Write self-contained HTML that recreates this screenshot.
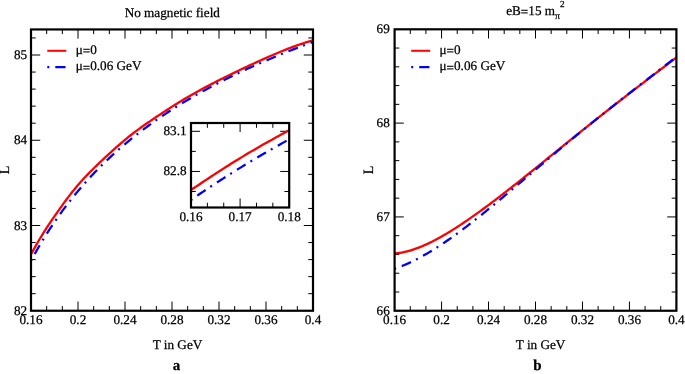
<!DOCTYPE html>
<html><head><meta charset="utf-8"><title>plot</title>
<style>
html,body{margin:0;padding:0;background:#fff;}
svg{display:block;font-family:"Liberation Serif",serif;fill:#000;text-rendering:geometricPrecision;}
</style></head><body>
<svg width="685" height="374" viewBox="0 0 685 374">
<rect width="685" height="374" fill="#fff"/>
<filter id="nf" x="0" y="0" width="685" height="374" filterUnits="userSpaceOnUse"><feOffset dx="0" dy="0"/></filter>
<path d="M46.67 310.75v-4.7M46.67 29.45v4.7M62.33 310.75v-4.7M62.33 29.45v4.7M78 310.75v-9.2M78 29.45v9.2M93.67 310.75v-4.7M93.67 29.45v4.7M109.33 310.75v-4.7M109.33 29.45v4.7M125 310.75v-9.2M125 29.45v9.2M140.67 310.75v-4.7M140.67 29.45v4.7M156.33 310.75v-4.7M156.33 29.45v4.7M172 310.75v-9.2M172 29.45v9.2M187.67 310.75v-4.7M187.67 29.45v4.7M203.33 310.75v-4.7M203.33 29.45v4.7M219 310.75v-9.2M219 29.45v9.2M234.67 310.75v-4.7M234.67 29.45v4.7M250.33 310.75v-4.7M250.33 29.45v4.7M266 310.75v-9.2M266 29.45v9.2M281.67 310.75v-4.7M281.67 29.45v4.7M297.33 310.75v-4.7M297.33 29.45v4.7M31 293.7h4.7M313 293.7h-4.7M31 276.65h4.7M313 276.65h-4.7M31 259.6h4.7M313 259.6h-4.7M31 242.55h4.7M313 242.55h-4.7M31 225.5h9.2M313 225.5h-9.2M31 208.45h4.7M313 208.45h-4.7M31 191.4h4.7M313 191.4h-4.7M31 174.35h4.7M313 174.35h-4.7M31 157.3h4.7M313 157.3h-4.7M31 140.25h9.2M313 140.25h-9.2M31 123.2h4.7M313 123.2h-4.7M31 106.15h4.7M313 106.15h-4.7M31 89.1h4.7M313 89.1h-4.7M31 72.05h4.7M313 72.05h-4.7M31 55h9.2M313 55h-9.2M31 37.95h4.7M313 37.95h-4.7" stroke="#000" stroke-width="1" fill="none"/>
<clipPath id="ca"><rect x="31" y="29.45" width="282" height="281.3"/></clipPath>
<g clip-path="url(#ca)"><path d="M31 254.29 L32.77 251.14 L34.55 247.99 L36.32 244.87 L38.09 241.8 L39.87 238.78 L41.64 235.83 L43.42 232.95 L45.19 230.14 L46.96 227.39 L48.74 224.7 L50.51 222.06 L52.28 219.45 L54.06 216.88 L55.83 214.34 L57.6 211.81 L59.38 209.31 L61.15 206.82 L62.92 204.36 L64.7 201.92 L66.47 199.52 L68.25 197.16 L70.02 194.85 L71.79 192.58 L73.57 190.36 L75.34 188.19 L77.11 186.07 L78.89 184 L80.66 181.98 L82.43 180 L84.21 178.07 L85.98 176.19 L87.75 174.34 L89.53 172.53 L91.3 170.75 L93.08 169 L94.85 167.28 L96.62 165.57 L98.4 163.88 L100.17 162.2 L101.94 160.53 L103.72 158.87 L105.49 157.21 L107.26 155.57 L109.04 153.93 L110.81 152.3 L112.58 150.68 L114.36 149.07 L116.13 147.48 L117.91 145.9 L119.68 144.35 L121.45 142.81 L123.23 141.3 L125 139.82 L126.77 138.36 L128.55 136.92 L130.32 135.51 L132.09 134.13 L133.87 132.77 L135.64 131.43 L137.42 130.11 L139.19 128.82 L140.96 127.54 L142.74 126.28 L144.51 125.03 L146.28 123.79 L148.06 122.57 L149.83 121.35 L151.6 120.14 L153.38 118.94 L155.15 117.74 L156.92 116.55 L158.7 115.36 L160.47 114.18 L162.25 113.01 L164.02 111.84 L165.79 110.69 L167.57 109.54 L169.34 108.4 L171.11 107.26 L172.89 106.14 L174.66 105.03 L176.43 103.92 L178.21 102.83 L179.98 101.74 L181.75 100.67 L183.53 99.6 L185.3 98.55 L187.08 97.51 L188.85 96.47 L190.62 95.45 L192.4 94.43 L194.17 93.43 L195.94 92.43 L197.72 91.44 L199.49 90.47 L201.26 89.5 L203.04 88.54 L204.81 87.58 L206.58 86.64 L208.36 85.71 L210.13 84.78 L211.91 83.86 L213.68 82.94 L215.45 82.03 L217.23 81.13 L219 80.24 L220.77 79.34 L222.55 78.46 L224.32 77.58 L226.09 76.7 L227.87 75.83 L229.64 74.96 L231.42 74.1 L233.19 73.24 L234.96 72.38 L236.74 71.52 L238.51 70.67 L240.28 69.83 L242.06 68.98 L243.83 68.14 L245.6 67.3 L247.38 66.47 L249.15 65.64 L250.92 64.81 L252.7 63.99 L254.47 63.17 L256.25 62.35 L258.02 61.54 L259.79 60.73 L261.57 59.93 L263.34 59.13 L265.11 58.34 L266.89 57.55 L268.66 56.77 L270.43 55.99 L272.21 55.22 L273.98 54.46 L275.75 53.71 L277.53 52.96 L279.3 52.22 L281.08 51.49 L282.85 50.77 L284.62 50.06 L286.4 49.36 L288.17 48.67 L289.94 47.99 L291.72 47.32 L293.49 46.67 L295.26 46.02 L297.04 45.39 L298.81 44.78 L300.58 44.18 L302.36 43.59 L304.13 43.02 L305.91 42.47 L307.68 41.93 L309.45 41.41 L311.23 40.91 L313 40.43" stroke="#f00" stroke-width="2.3" fill="none"/>
<path d="M31 260.65 L32.77 257.41 L34.55 254.22 L36.32 251.09 L38.09 248.02 L39.87 245 L41.64 242.04 L43.42 239.13 L45.19 236.27 L46.96 233.46 L48.74 230.7 L50.51 227.98 L52.28 225.31 L54.06 222.69 L55.83 220.11 L57.6 217.57 L59.38 215.07 L61.15 212.61 L62.92 210.2 L64.7 207.81 L66.47 205.47 L68.25 203.16 L70.02 200.89 L71.79 198.65 L73.57 196.45 L75.34 194.28 L77.11 192.14 L78.89 190.03 L80.66 187.95 L82.43 185.9 L84.21 183.88 L85.98 181.89 L87.75 179.93 L89.53 177.99 L91.3 176.08 L93.08 174.19 L94.85 172.33 L96.62 170.5 L98.4 168.69 L100.17 166.9 L101.94 165.14 L103.72 163.4 L105.49 161.68 L107.26 159.98 L109.04 158.31 L110.81 156.65 L112.58 155.01 L114.36 153.4 L116.13 151.8 L117.91 150.23 L119.68 148.67 L121.45 147.13 L123.23 145.61 L125 144.1 L126.77 142.61 L128.55 141.14 L130.32 139.69 L132.09 138.25 L133.87 136.83 L135.64 135.42 L137.42 134.03 L139.19 132.66 L140.96 131.3 L142.74 129.95 L144.51 128.62 L146.28 127.3 L148.06 125.99 L149.83 124.7 L151.6 123.42 L153.38 122.15 L155.15 120.9 L156.92 119.66 L158.7 118.43 L160.47 117.21 L162.25 116.01 L164.02 114.82 L165.79 113.63 L167.57 112.46 L169.34 111.3 L171.11 110.15 L172.89 109.02 L174.66 107.89 L176.43 106.77 L178.21 105.66 L179.98 104.57 L181.75 103.48 L183.53 102.4 L185.3 101.33 L187.08 100.27 L188.85 99.22 L190.62 98.18 L192.4 97.14 L194.17 96.12 L195.94 95.1 L197.72 94.1 L199.49 93.1 L201.26 92.11 L203.04 91.13 L204.81 90.15 L206.58 89.18 L208.36 88.22 L210.13 87.27 L211.91 86.33 L213.68 85.39 L215.45 84.46 L217.23 83.54 L219 82.62 L220.77 81.71 L222.55 80.81 L224.32 79.91 L226.09 79.03 L227.87 78.14 L229.64 77.27 L231.42 76.4 L233.19 75.53 L234.96 74.68 L236.74 73.83 L238.51 72.98 L240.28 72.14 L242.06 71.31 L243.83 70.48 L245.6 69.66 L247.38 68.84 L249.15 68.03 L250.92 67.22 L252.7 66.42 L254.47 65.63 L256.25 64.84 L258.02 64.05 L259.79 63.27 L261.57 62.5 L263.34 61.73 L265.11 60.96 L266.89 60.2 L268.66 59.45 L270.43 58.7 L272.21 57.95 L273.98 57.21 L275.75 56.47 L277.53 55.74 L279.3 55.01 L281.08 54.29 L282.85 53.57 L284.62 52.85 L286.4 52.14 L288.17 51.43 L289.94 50.73 L291.72 50.03 L293.49 49.34 L295.26 48.65 L297.04 47.96 L298.81 47.28 L300.58 46.6 L302.36 45.92 L304.13 45.25 L305.91 44.58 L307.68 43.92 L309.45 43.25 L311.23 42.6 L313 41.94" stroke="#00f" stroke-width="2.25" fill="none" stroke-dasharray="2 6 10.1 5.6" stroke-dashoffset="0.4"/></g>
<rect x="31" y="29.45" width="282" height="281.3" fill="none" stroke="#000" stroke-width="2.2"/>
<path d="M47.3 50.8H66.3" stroke="#f00" stroke-width="2"/>
<path d="M47.3 67.1H66.5" stroke="#00f" stroke-width="2.2" stroke-dasharray="2 6 10.2 5.6"/>
<rect x="191" y="123" width="98.2" height="84.5" fill="#fff"/>
<path d="M207.37 207.5v-4.8M207.37 123v4.8M223.73 207.5v-4.8M223.73 123v4.8M240.1 207.5v-9M240.1 123v9M256.47 207.5v-4.8M256.47 123v4.8M272.83 207.5v-4.8M272.83 123v4.8M191 131.3h9M289.2 131.3h-9M191 151.38h4.8M289.2 151.38h-4.8M191 171.45h9M289.2 171.45h-9M191 191.52h4.8M289.2 191.52h-4.8" stroke="#000" stroke-width="1" fill="none"/>
<clipPath id="ci"><rect x="191" y="123" width="98.2" height="84.5"/></clipPath>
<g clip-path="url(#ci)"><path d="M191 189.96 L193.52 188.28 L196.04 186.6 L198.55 184.92 L201.07 183.23 L203.59 181.55 L206.11 179.88 L208.63 178.21 L211.14 176.55 L213.66 174.89 L216.18 173.25 L218.7 171.61 L221.22 169.98 L223.73 168.36 L226.25 166.76 L228.77 165.16 L231.29 163.58 L233.81 162.01 L236.32 160.45 L238.84 158.91 L241.36 157.38 L243.88 155.86 L246.39 154.35 L248.91 152.86 L251.43 151.37 L253.95 149.9 L256.47 148.44 L258.98 146.99 L261.5 145.55 L264.02 144.12 L266.54 142.7 L269.06 141.29 L271.57 139.88 L274.09 138.49 L276.61 137.1 L279.13 135.71 L281.65 134.33 L284.16 132.96 L286.68 131.59 L289.2 130.23" stroke="#f00" stroke-width="2.3" fill="none"/>
<path d="M191 199.95 L193.52 198.21 L196.04 196.47 L198.55 194.75 L201.07 193.04 L203.59 191.34 L206.11 189.65 L208.63 187.98 L211.14 186.31 L213.66 184.65 L216.18 183.01 L218.7 181.37 L221.22 179.74 L223.73 178.13 L226.25 176.52 L228.77 174.92 L231.29 173.34 L233.81 171.76 L236.32 170.19 L238.84 168.63 L241.36 167.09 L243.88 165.55 L246.39 164.02 L248.91 162.5 L251.43 160.98 L253.95 159.48 L256.47 157.99 L258.98 156.5 L261.5 155.02 L264.02 153.56 L266.54 152.1 L269.06 150.64 L271.57 149.2 L274.09 147.77 L276.61 146.34 L279.13 144.92 L281.65 143.51 L284.16 142.11 L286.68 140.72 L289.2 139.33" stroke="#00f" stroke-width="2.25" fill="none" stroke-dasharray="2 6 10.1 5.6" stroke-dashoffset="0.4"/></g>
<rect x="191" y="123" width="98.2" height="84.5" fill="none" stroke="#000" stroke-width="2.2"/>
<path d="M410.26 310.75v-4.7M410.26 29.3v4.7M425.91 310.75v-4.7M425.91 29.3v4.7M441.57 310.75v-9.2M441.57 29.3v9.2M457.22 310.75v-4.7M457.22 29.3v4.7M472.88 310.75v-4.7M472.88 29.3v4.7M488.53 310.75v-9.2M488.53 29.3v9.2M504.19 310.75v-4.7M504.19 29.3v4.7M519.84 310.75v-4.7M519.84 29.3v4.7M535.5 310.75v-9.2M535.5 29.3v9.2M551.16 310.75v-4.7M551.16 29.3v4.7M566.81 310.75v-4.7M566.81 29.3v4.7M582.47 310.75v-9.2M582.47 29.3v9.2M598.12 310.75v-4.7M598.12 29.3v4.7M613.78 310.75v-4.7M613.78 29.3v4.7M629.43 310.75v-9.2M629.43 29.3v9.2M645.09 310.75v-4.7M645.09 29.3v4.7M660.74 310.75v-4.7M660.74 29.3v4.7M394.6 291.99h4.7M676.4 291.99h-4.7M394.6 273.22h4.7M676.4 273.22h-4.7M394.6 254.46h4.7M676.4 254.46h-4.7M394.6 235.7h4.7M676.4 235.7h-4.7M394.6 216.93h9.2M676.4 216.93h-9.2M394.6 198.17h4.7M676.4 198.17h-4.7M394.6 179.41h4.7M676.4 179.41h-4.7M394.6 160.64h4.7M676.4 160.64h-4.7M394.6 141.88h4.7M676.4 141.88h-4.7M394.6 123.12h9.2M676.4 123.12h-9.2M394.6 104.35h4.7M676.4 104.35h-4.7M394.6 85.59h4.7M676.4 85.59h-4.7M394.6 66.83h4.7M676.4 66.83h-4.7M394.6 48.06h4.7M676.4 48.06h-4.7" stroke="#000" stroke-width="1" fill="none"/>
<clipPath id="cb"><rect x="394.6" y="29.3" width="281.8" height="281.45"/></clipPath>
<g clip-path="url(#cb)"><path d="M394.6 253.44 L396.02 253.32 L397.43 253.17 L398.85 252.99 L400.26 252.78 L401.68 252.54 L403.1 252.27 L404.51 251.97 L405.93 251.64 L407.34 251.29 L408.76 250.92 L410.18 250.52 L411.59 250.09 L413.01 249.64 L414.43 249.17 L415.84 248.68 L417.26 248.16 L418.67 247.63 L420.09 247.07 L421.51 246.49 L422.92 245.9 L424.34 245.29 L425.75 244.65 L427.17 244 L428.59 243.34 L430 242.66 L431.42 241.96 L432.83 241.24 L434.25 240.52 L435.67 239.77 L437.08 239.02 L438.5 238.25 L439.91 237.46 L441.33 236.67 L442.75 235.86 L444.16 235.04 L445.58 234.21 L446.99 233.36 L448.41 232.51 L449.83 231.65 L451.24 230.77 L452.66 229.89 L454.08 229 L455.49 228.1 L456.91 227.19 L458.32 226.27 L459.74 225.34 L461.16 224.4 L462.57 223.46 L463.99 222.51 L465.4 221.55 L466.82 220.59 L468.24 219.62 L469.65 218.64 L471.07 217.65 L472.48 216.66 L473.9 215.66 L475.32 214.66 L476.73 213.65 L478.15 212.63 L479.56 211.61 L480.98 210.58 L482.4 209.55 L483.81 208.51 L485.23 207.47 L486.65 206.42 L488.06 205.37 L489.48 204.31 L490.89 203.25 L492.31 202.19 L493.73 201.12 L495.14 200.04 L496.56 198.96 L497.97 197.88 L499.39 196.8 L500.81 195.71 L502.22 194.62 L503.64 193.52 L505.05 192.42 L506.47 191.32 L507.89 190.21 L509.3 189.11 L510.72 188 L512.13 186.88 L513.55 185.77 L514.97 184.65 L516.38 183.53 L517.8 182.41 L519.22 181.28 L520.63 180.15 L522.05 179.03 L523.46 177.9 L524.88 176.76 L526.3 175.63 L527.71 174.5 L529.13 173.36 L530.54 172.22 L531.96 171.08 L533.38 169.94 L534.79 168.8 L536.21 167.66 L537.62 166.52 L539.04 165.38 L540.46 164.23 L541.87 163.09 L543.29 161.94 L544.7 160.8 L546.12 159.65 L547.54 158.51 L548.95 157.36 L550.37 156.21 L551.78 155.07 L553.2 153.92 L554.62 152.77 L556.03 151.63 L557.45 150.48 L558.87 149.34 L560.28 148.19 L561.7 147.05 L563.11 145.9 L564.53 144.76 L565.95 143.61 L567.36 142.47 L568.78 141.33 L570.19 140.19 L571.61 139.04 L573.03 137.9 L574.44 136.76 L575.86 135.63 L577.27 134.49 L578.69 133.35 L580.11 132.21 L581.52 131.08 L582.94 129.95 L584.35 128.81 L585.77 127.68 L587.19 126.55 L588.6 125.42 L590.02 124.29 L591.44 123.16 L592.85 122.04 L594.27 120.91 L595.68 119.79 L597.1 118.67 L598.52 117.54 L599.93 116.42 L601.35 115.31 L602.76 114.19 L604.18 113.07 L605.6 111.96 L607.01 110.84 L608.43 109.73 L609.84 108.62 L611.26 107.51 L612.68 106.4 L614.09 105.29 L615.51 104.19 L616.92 103.08 L618.34 101.98 L619.76 100.88 L621.17 99.78 L622.59 98.68 L624.01 97.58 L625.42 96.48 L626.84 95.39 L628.25 94.29 L629.67 93.2 L631.09 92.11 L632.5 91.02 L633.92 89.92 L635.33 88.84 L636.75 87.75 L638.17 86.66 L639.58 85.57 L641 84.49 L642.41 83.4 L643.83 82.32 L645.25 81.24 L646.66 80.16 L648.08 79.07 L649.49 77.99 L650.91 76.91 L652.33 75.83 L653.74 74.75 L655.16 73.68 L656.57 72.6 L657.99 71.52 L659.41 70.44 L660.82 69.37 L662.24 68.29 L663.66 67.21 L665.07 66.13 L666.49 65.06 L667.9 63.98 L669.32 62.9 L670.74 61.83 L672.15 60.75 L673.57 59.67 L674.98 58.59 L676.4 57.51" stroke="#f00" stroke-width="2.3" fill="none"/>
<path d="M394.6 268.75 L396.02 268.26 L397.43 267.76 L398.85 267.24 L400.26 266.7 L401.68 266.14 L403.1 265.57 L404.51 264.98 L405.93 264.37 L407.34 263.75 L408.76 263.11 L410.18 262.45 L411.59 261.78 L413.01 261.1 L414.43 260.4 L415.84 259.68 L417.26 258.95 L418.67 258.21 L420.09 257.45 L421.51 256.68 L422.92 255.9 L424.34 255.1 L425.75 254.29 L427.17 253.47 L428.59 252.63 L430 251.79 L431.42 250.93 L432.83 250.06 L434.25 249.18 L435.67 248.29 L437.08 247.38 L438.5 246.47 L439.91 245.55 L441.33 244.61 L442.75 243.67 L444.16 242.71 L445.58 241.75 L446.99 240.78 L448.41 239.8 L449.83 238.81 L451.24 237.81 L452.66 236.8 L454.08 235.79 L455.49 234.76 L456.91 233.73 L458.32 232.69 L459.74 231.65 L461.16 230.6 L462.57 229.54 L463.99 228.47 L465.4 227.4 L466.82 226.32 L468.24 225.23 L469.65 224.14 L471.07 223.04 L472.48 221.94 L473.9 220.83 L475.32 219.72 L476.73 218.6 L478.15 217.48 L479.56 216.35 L480.98 215.22 L482.4 214.08 L483.81 212.94 L485.23 211.8 L486.65 210.65 L488.06 209.49 L489.48 208.34 L490.89 207.18 L492.31 206.02 L493.73 204.85 L495.14 203.68 L496.56 202.51 L497.97 201.34 L499.39 200.16 L500.81 198.98 L502.22 197.8 L503.64 196.61 L505.05 195.43 L506.47 194.24 L507.89 193.05 L509.3 191.86 L510.72 190.67 L512.13 189.48 L513.55 188.28 L514.97 187.09 L516.38 185.89 L517.8 184.69 L519.22 183.49 L520.63 182.29 L522.05 181.09 L523.46 179.89 L524.88 178.69 L526.3 177.49 L527.71 176.29 L529.13 175.09 L530.54 173.89 L531.96 172.69 L533.38 171.49 L534.79 170.29 L536.21 169.09 L537.62 167.89 L539.04 166.69 L540.46 165.49 L541.87 164.29 L543.29 163.09 L544.7 161.9 L546.12 160.7 L547.54 159.51 L548.95 158.31 L550.37 157.12 L551.78 155.93 L553.2 154.74 L554.62 153.55 L556.03 152.36 L557.45 151.18 L558.87 149.99 L560.28 148.81 L561.7 147.63 L563.11 146.45 L564.53 145.27 L565.95 144.09 L567.36 142.92 L568.78 141.74 L570.19 140.57 L571.61 139.4 L573.03 138.23 L574.44 137.07 L575.86 135.9 L577.27 134.74 L578.69 133.58 L580.11 132.42 L581.52 131.26 L582.94 130.11 L584.35 128.95 L585.77 127.8 L587.19 126.65 L588.6 125.5 L590.02 124.36 L591.44 123.22 L592.85 122.07 L594.27 120.93 L595.68 119.8 L597.1 118.66 L598.52 117.53 L599.93 116.39 L601.35 115.26 L602.76 114.13 L604.18 113.01 L605.6 111.88 L607.01 110.76 L608.43 109.64 L609.84 108.52 L611.26 107.4 L612.68 106.28 L614.09 105.17 L615.51 104.05 L616.92 102.94 L618.34 101.83 L619.76 100.72 L621.17 99.61 L622.59 98.51 L624.01 97.4 L625.42 96.3 L626.84 95.2 L628.25 94.09 L629.67 92.99 L631.09 91.89 L632.5 90.79 L633.92 89.7 L635.33 88.6 L636.75 87.5 L638.17 86.41 L639.58 85.31 L641 84.22 L642.41 83.12 L643.83 82.03 L645.25 80.94 L646.66 79.84 L648.08 78.75 L649.49 77.65 L650.91 76.56 L652.33 75.47 L653.74 74.37 L655.16 73.28 L656.57 72.18 L657.99 71.09 L659.41 69.99 L660.82 68.89 L662.24 67.79 L663.66 66.69 L665.07 65.59 L666.49 64.49 L667.9 63.38 L669.32 62.28 L670.74 61.17 L672.15 60.06 L673.57 58.95 L674.98 57.84 L676.4 56.72" stroke="#00f" stroke-width="2.25" fill="none" stroke-dasharray="2 6 10.1 5.6" stroke-dashoffset="0.4"/></g>
<rect x="394.6" y="29.3" width="281.8" height="281.45" fill="none" stroke="#000" stroke-width="2.2"/>
<path d="M411.2 50.8H430.2" stroke="#f00" stroke-width="2"/>
<path d="M411.2 67.1H430.2" stroke="#00f" stroke-width="2.2" stroke-dasharray="2 6 10.2 5.6"/>
<g filter="url(#nf)" stroke="#000" stroke-width="0.25">
<text x="31" y="324.15" text-anchor="middle" font-size="13.2" >0.16</text>
<text x="78" y="324.15" text-anchor="middle" font-size="13.2" >0.2</text>
<text x="125" y="324.15" text-anchor="middle" font-size="13.2" >0.24</text>
<text x="172" y="324.15" text-anchor="middle" font-size="13.2" >0.28</text>
<text x="219" y="324.15" text-anchor="middle" font-size="13.2" >0.32</text>
<text x="266" y="324.15" text-anchor="middle" font-size="13.2" >0.36</text>
<text x="313" y="324.15" text-anchor="middle" font-size="13.2" >0.4</text>
<text x="27.1" y="314.75" text-anchor="end" font-size="13.2" >82</text>
<text x="27.1" y="229.5" text-anchor="end" font-size="13.2" >83</text>
<text x="27.1" y="144.25" text-anchor="end" font-size="13.2" >84</text>
<text x="27.1" y="59" text-anchor="end" font-size="13.2" >85</text>
<text x="172.3" y="16.9" text-anchor="middle" font-size="13.2" >No magnetic field</text>
<text x="177.5" y="348.5" text-anchor="middle" font-size="13.2" >T in GeV</text>
<text x="176.4" y="369.9" text-anchor="middle" font-size="15" font-weight="bold">a</text>
<text transform="translate(9.0 169.9) rotate(-90)" text-anchor="middle" font-size="14.3">L</text>
<text x="75.7" y="53.6" text-anchor="start" font-size="13.2" >μ<tspan dy="1.1">=</tspan><tspan dy="-1.1">0</tspan></text>
<text x="75.7" y="70.4" text-anchor="start" font-size="13.2" >μ<tspan dy="1.1">=</tspan><tspan dy="-1.1">0.06 GeV</tspan></text>
<text x="191" y="221.4" text-anchor="middle" font-size="13.2" >0.16</text>
<text x="240.1" y="221.4" text-anchor="middle" font-size="13.2" >0.17</text>
<text x="289.2" y="221.4" text-anchor="middle" font-size="13.2" >0.18</text>
<text x="186.6" y="135.3" text-anchor="end" font-size="13.2" >83.1</text>
<text x="186.6" y="175.45" text-anchor="end" font-size="13.2" >82.8</text>
<text x="394.6" y="324.15" text-anchor="middle" font-size="13.2" >0.16</text>
<text x="441.57" y="324.15" text-anchor="middle" font-size="13.2" >0.2</text>
<text x="488.53" y="324.15" text-anchor="middle" font-size="13.2" >0.24</text>
<text x="535.5" y="324.15" text-anchor="middle" font-size="13.2" >0.28</text>
<text x="582.47" y="324.15" text-anchor="middle" font-size="13.2" >0.32</text>
<text x="629.43" y="324.15" text-anchor="middle" font-size="13.2" >0.36</text>
<text x="676.4" y="324.15" text-anchor="middle" font-size="13.2" >0.4</text>
<text x="389.8" y="314.75" text-anchor="end" font-size="13.2" >66</text>
<text x="389.8" y="220.93" text-anchor="end" font-size="13.2" >67</text>
<text x="389.8" y="127.12" text-anchor="end" font-size="13.2" >68</text>
<text x="389.8" y="33.3" text-anchor="end" font-size="13.2" >69</text>
<text x="506.2" y="14.5" font-size="13.2">eB<tspan dy="1.1">=</tspan><tspan dy="-1.1">15 m</tspan><tspan font-size="10" dy="4.9">π</tspan><tspan font-size="9.2" dy="-12.8">2</tspan></text>
<text x="540.6" y="348.5" text-anchor="middle" font-size="13.2" >T in GeV</text>
<text x="537.5" y="370.1" text-anchor="middle" font-size="15" font-weight="bold">b</text>
<text transform="translate(372.6 169.9) rotate(-90)" text-anchor="middle" font-size="14.3">L</text>
<text x="439.5" y="53.6" text-anchor="start" font-size="13.2" >μ<tspan dy="1.1">=</tspan><tspan dy="-1.1">0</tspan></text>
<text x="439.5" y="70.4" text-anchor="start" font-size="13.2" >μ<tspan dy="1.1">=</tspan><tspan dy="-1.1">0.06 GeV</tspan></text>
</g>
</svg>
</body></html>
